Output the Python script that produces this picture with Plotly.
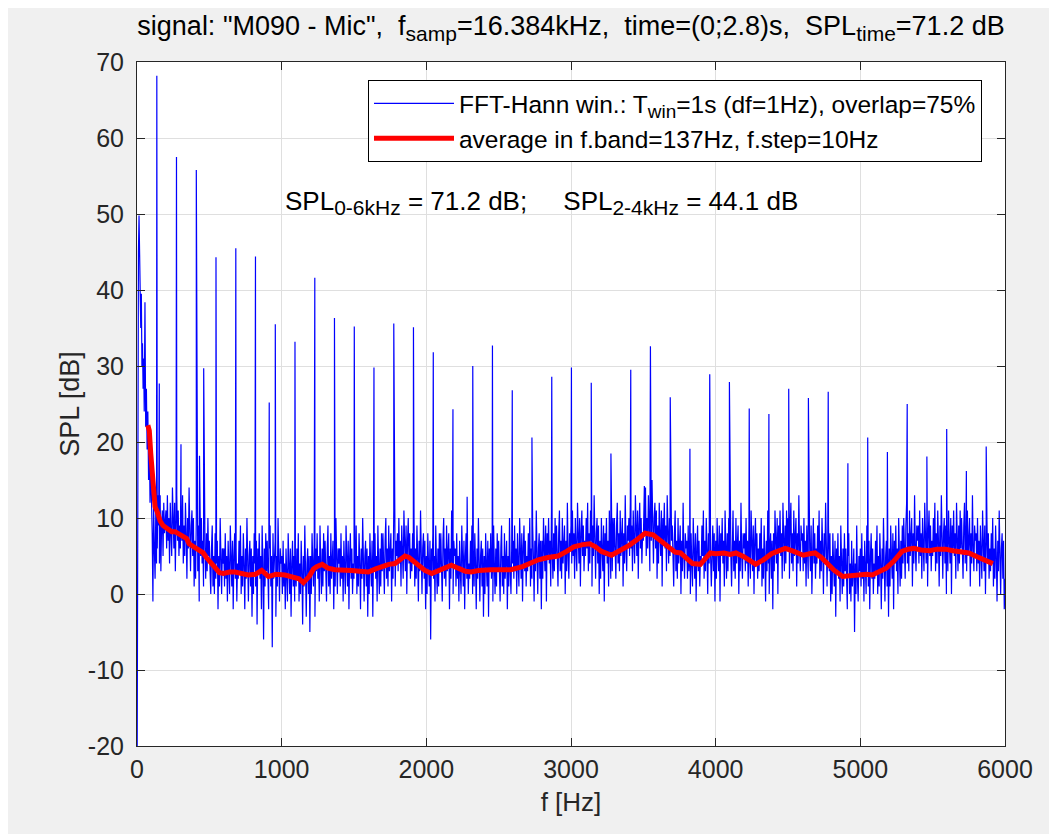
import plotly.graph_objects as go

# ---------------- data ----------------
# very low frequency part of the FFT spectrum (Hz, dB)
low_freq = [0, 5, 10, 14, 18, 22, 26, 30, 34, 38, 42, 46, 50, 55, 60, 65, 70, 75, 80, 85, 90, 95]
low_spl = [-30, 20, 45, 49.8, 46, 41, 35, 39.5, 30, 33, 27, 31, 24, 38.4, 22, 27, 19, 24, 15, 21, 12, 17]

# broadband noise floor of the FFT spectrum: one row per 100 Hz, samples every 5 Hz (dB)
noise_step_hz = 5
noise_rows = {
    100: [14, 8, -1, 12, 6, 2, 11, 4, 6, 13, 9, 4, 13, 3, 9, 11, 5, 12, 8, 10],
    200: [11, 6, 13, 7, 10, 4, 12, 8, 5, 14, 9, 6, 12, 3, 10, 13, 7, 11, 5, 9],
    300: [6, 11, 7, 13, 4, 9, 5, 12, 8, 2, 10, 6, 14, 7, 3, 9, 11, 5, 10, 1],
    400: [7, 2, 10, 6, 3, 9, -1, 8, 5, 10, 4, 7, 1, 11, 6, 2, 8, 3, 10, 5],
    500: [7, 3, 0, 6, 9, 1, 5, 0, 8, 2, 4, 7, -2, 5, 1, 10, 3, 0, 6, 4],
    600: [6, 1, 8, 2, 5, -1, 7, 3, 0, 9, 4, 1, 7, -2, 5, 8, 2, 6, -1, 4],
    700: [2, 7, 3, 9, 0, 5, 1, 8, 4, -2, 6, 2, 10, 3, -1, 5, 7, 1, 6, -3],
    800: [5, 0, 8, 4, 1, 7, -4, 6, 3, 8, 2, 5, -2, 9, 4, -6, 6, 1, 8, 3],
    900: [7, 3, -2, 6, 9, 1, 5, -7, 8, 2, 4, 7, -3, 5, 1, 10, 3, -1, 6, 4],
    1000: [5, 0, 7, 1, 4, -2, 6, 2, -1, 8, 3, 0, 6, -3, 4, 7, 1, 5, -1, 3],
    1100: [1, 6, 2, 8, -1, 4, 0, 7, 3, -4, 5, 1, 9, 2, -3, 4, 6, 0, 5, -5],
    1200: [5, 0, 8, 4, 1, 7, -3, 6, 3, 8, 2, 5, -1, 9, 4, 0, 6, 1, 8, 3],
    1300: [7, 3, -1, 6, 9, 1, 5, 0, 8, 2, 4, 7, -2, 5, 1, 10, 3, 0, 6, 4],
    1400: [6, 1, 8, 2, 5, -1, 7, 3, 0, 9, 4, 1, 7, -2, 5, 8, 2, 6, 0, 4],
    1500: [2, 7, 3, 9, 0, 5, 1, 8, 4, -2, 6, 2, 10, 3, -1, 5, 7, 1, 6, -3],
    1600: [5, 0, 8, 4, 1, 7, -3, 6, 3, 8, 2, 5, -1, 9, 4, 0, 6, 1, 8, 3],
    1700: [8, 4, 0, 7, 10, 2, 6, 1, 9, 3, 5, 8, -1, 6, 2, 11, 4, 1, 7, 5],
    1800: [8, 3, 10, 4, 7, 1, 9, 5, 2, 11, 6, 3, 9, 0, 7, 10, 4, 8, 2, 6],
    1900: [3, 8, 4, 10, 1, 6, 2, 9, 5, -1, 7, 3, 11, 4, 0, 6, 8, 2, 7, -2],
    2000: [5, 0, 8, 4, 1, 7, -6, 6, 3, 8, 2, 5, -1, 9, 4, 0, 6, 1, 8, 3],
    2100: [8, 4, -1, 7, 10, 2, 6, 1, 9, 3, 5, 8, -2, 6, 2, 11, 4, 0, 7, 5],
    2200: [6, 1, 8, 2, 5, -1, 7, 3, 0, 9, 4, 1, 7, -2, 5, 8, 2, 6, 0, 4],
    2300: [2, 7, 3, 9, 0, 5, 1, 8, 4, -2, 6, 2, 10, 3, -1, 5, 7, 1, 6, -3],
    2400: [5, 0, 8, 4, 1, 7, -3, 6, 3, 8, 2, 5, -1, 9, 4, 0, 6, 1, 8, 3],
    2500: [7, 3, -1, 6, 9, 1, 5, 0, 8, 2, 4, 7, -2, 5, 1, 10, 3, 0, 6, 4],
    2600: [7, 2, 9, 3, 6, 0, 8, 4, 1, 10, 5, 2, 8, -1, 6, 9, 3, 7, 1, 5],
    2700: [3, 8, 4, 10, 1, 6, 2, 9, 5, -1, 7, 3, 11, 4, 0, 6, 8, 2, 7, -2],
    2800: [7, 2, 10, 6, 3, 9, -1, 8, 5, 10, 4, 7, 1, 11, 6, 2, 8, 3, 10, 5],
    2900: [9, 5, 1, 8, 11, 3, 7, 2, 10, 4, 6, 9, 0, 7, 3, 12, 5, 2, 8, 6],
    3000: [9, 4, 11, 5, 8, 2, 10, 6, 3, 12, 7, 4, 10, 1, 8, 11, 5, 9, 3, 7],
    3100: [5, 10, 6, 12, 3, 8, 4, 11, 7, 1, 9, 5, 13, 6, 2, 8, 10, 4, 9, 0],
    3200: [7, 2, 10, 6, 3, 9, -1, 8, 5, 10, 4, 7, 1, 11, 6, 2, 8, 3, 10, 5],
    3300: [10, 6, 2, 9, 12, 4, 8, 3, 11, 5, 7, 10, 1, 8, 4, 13, 6, 3, 9, 7],
    3400: [10, 5, 12, 6, 9, 3, 11, 7, 4, 13, 8, 5, 11, 2, 9, 12, 6, 10, 4, 8],
    3500: [7, 12, 8, 14, 5, 10, 6, 13, 9, 3, 11, 7, 15, 8, 4, 10, 12, 6, 11, 2],
    3600: [9, 4, 12, 8, 5, 11, 1, 10, 7, 12, 6, 9, 3, 13, 8, 4, 10, 5, 12, 7],
    3700: [9, 5, 1, 8, 11, 3, 7, 2, 10, 4, 6, 9, 0, 7, 3, 12, 5, 2, 8, 6],
    3800: [7, 2, 9, 3, 6, 0, 8, 4, 1, 10, 5, 2, 8, -1, 6, 9, 3, 7, 1, 5],
    3900: [4, 9, 5, 11, 2, 7, 3, 10, 6, 0, 8, 4, 12, 5, 1, 7, 9, 3, 8, -1],
    4000: [7, 2, 10, 6, 3, 9, -1, 8, 5, 10, 4, 7, 1, 11, 6, 2, 8, 3, 10, 5],
    4100: [9, 5, 1, 8, 11, 3, 7, 2, 10, 4, 6, 9, 0, 7, 3, 12, 5, 2, 8, 6],
    4200: [8, 3, 10, 4, 7, 1, 9, 5, 2, 11, 6, 3, 9, 0, 7, 10, 4, 8, 2, 6],
    4300: [3, 8, 4, 10, 1, 6, 2, 9, 5, -1, 7, 3, 11, 4, 0, 6, 8, 2, 7, -2],
    4400: [8, 3, 11, 7, 4, 10, 0, 9, 6, 11, 5, 8, 2, 12, 7, 3, 9, 4, 11, 6],
    4500: [10, 6, 2, 9, 12, 4, 8, 3, 11, 5, 7, 10, 1, 8, 4, 13, 6, 3, 9, 7],
    4600: [8, 3, 10, 4, 7, 1, 9, 5, 2, 11, 6, 3, 9, 0, 7, 10, 4, 8, 2, 6],
    4700: [4, 9, 5, 11, 2, 7, 3, 10, 6, 0, 8, 4, 12, 5, 1, 7, 9, 3, 8, -1],
    4800: [5, 0, 8, 4, 1, 7, -3, 6, 3, 8, 2, 5, -1, 9, 4, 0, 6, 1, 8, 3],
    4900: [6, 2, -2, 5, 8, 0, 4, -1, 7, 1, 3, 6, -5, 4, 0, 9, 2, -1, 5, 3],
    5000: [6, 1, 8, 2, 5, -1, 7, 3, 0, 9, 4, 1, 7, -2, 5, 8, 2, 6, 0, 4],
    5100: [2, 7, 3, 9, 0, 5, 1, 8, 4, -2, 6, 2, 10, 3, -1, 5, 7, 1, 6, -3],
    5200: [6, 1, 9, 5, 2, 8, -2, 7, 4, 9, 3, 6, 0, 10, 5, 1, 7, 2, 9, 4],
    5300: [10, 6, 2, 9, 12, 4, 8, 3, 11, 5, 7, 10, 1, 8, 4, 13, 6, 3, 9, 7],
    5400: [9, 4, 11, 5, 8, 2, 10, 6, 3, 12, 7, 4, 10, 1, 8, 11, 5, 9, 3, 7],
    5500: [5, 10, 6, 12, 3, 8, 4, 11, 7, 1, 9, 5, 13, 6, 2, 8, 10, 4, 9, 0],
    5600: [8, 3, 11, 7, 4, 10, 0, 9, 6, 11, 5, 8, 2, 12, 7, 3, 9, 4, 11, 6],
    5700: [10, 6, 2, 9, 12, 4, 8, 3, 11, 5, 7, 10, 1, 8, 4, 13, 6, 3, 9, 7],
    5800: [8, 3, 10, 4, 7, 1, 9, 5, 2, 11, 6, 3, 9, 0, 7, 10, 4, 8, 2, 6],
    5900: [3, 8, 4, 10, 1, 6, 2, 9, 5, -1, 7, 3, 11, 4, 0, 6, 8, 2, 7, -2],
    6000: [2],
}

# harmonic peaks (Hz, dB)
harm_freq = [137, 273, 410, 546, 683, 819, 956, 1092, 1229, 1365, 1502, 1638, 1775, 1911,
             2048, 2184, 2321, 2457, 2594, 2730, 2867, 3003, 3140, 3276, 3413, 3549, 3686,
             3822, 3959, 4095, 4232, 4368, 4505, 4641, 4778, 4914, 5051, 5187, 5324, 5460,
             5597, 5733, 5870]
harm_spl = [68.2, 57.5, 55.8, 44.3, 45.5, 44.4, 35.5, 33.2, 41.6, 36.3, 35.2, 29.8, 35.6, 35.1,
            31.8, 24.3, 30.0, 32.7, 26.8, 20.6, 28.6, 29.8, 27.8, 18.5, 29.5, 32.6, 25.9,
            19.1, 28.9, 27.9, 24.4, 23.7, 27.0, 25.8, 26.6, 17.2, 20.6, 18.7, 25.0, 18.1,
            21.7, 16.2, 19.4]

# smaller side peaks (Hz, dB)
side_freq = [154, 304, 432, 461, 914, 2282, 3507]
side_spl = [27.7, 19.7, 18.2, 29.7, 25.2, 12.8, 14.2]

# band average (red) curve (Hz, dB)
avg_freq = [75, 85, 95, 105, 115, 125, 140, 160, 180, 200, 240, 263, 300, 343, 360, 389, 420,
            458, 480, 510, 539, 570, 597, 640, 677, 720, 769, 820, 862, 908, 960, 1023, 1080,
            1120, 1150, 1190, 1220, 1242, 1280, 1320, 1369, 1420, 1484, 1540, 1599, 1650, 1691,
            1740, 1783, 1820, 1852, 1880, 1910, 1944, 1990, 2037, 2100, 2150, 2173, 2220, 2270,
            2309, 2360, 2446, 2520, 2583, 2665, 2720, 2774, 2840, 2911, 2970, 3020, 3080, 3129,
            3170, 3211, 3280, 3340, 3402, 3460, 3512, 3567, 3620, 3676, 3720, 3757, 3800, 3840,
            3894, 3930, 3963, 4000, 4058, 4100, 4140, 4195, 4240, 4277, 4330, 4386, 4440, 4482,
            4540, 4605, 4650, 4687, 4730, 4769, 4820, 4878, 4930, 4987, 5040, 5083, 5130, 5179,
            5230, 5288, 5330, 5369, 5420, 5479, 5530, 5589, 5640, 5698, 5750, 5807, 5860, 5916]
avg_spl = [22.2, 21.5, 18.5, 15.5, 12.5, 11.5, 10.8, 9.6, 9.0, 8.7, 8.2, 8.2, 7.8, 7.3, 6.6, 6.2,
           5.9, 5.4, 4.8, 4.1, 3.4, 2.8, 2.7, 2.9, 2.9, 2.7, 2.5, 2.6, 3.1, 2.3, 2.6, 2.5, 2.3,
           2.0, 1.5, 2.3, 3.3, 3.6, 3.9, 3.4, 3.2, 3.2, 3.1, 3.0, 2.9, 3.3, 3.6,
           3.9, 4.0, 4.6, 5.0, 4.8, 4.3, 3.8, 3.1, 2.7, 3.2, 3.6, 3.8, 3.4, 3.0,
           2.9, 3.1, 3.2, 3.2, 3.2, 3.6, 4.1, 4.5, 4.8, 5.0, 5.6, 6.2, 6.5, 6.6,
           6.2, 5.6, 5.1, 5.7, 6.4, 7.2, 8.0, 7.8, 7.0, 6.0, 5.5, 5.4, 4.6, 4.0,
           3.9, 4.6, 5.4, 5.3, 5.4, 5.2, 5.4, 4.9, 4.3, 3.9, 4.5, 5.3, 5.7, 6.0,
           5.6, 5.1, 5.3, 5.4, 4.8, 4.0, 3.1, 2.3, 2.4, 2.6, 2.6, 2.5, 2.9, 3.4,
           4.3, 5.6, 5.9, 6.0, 5.8, 5.7, 5.9, 5.9, 5.7, 5.6, 5.4, 4.9, 4.4, 4.0]

x_ticks = [0, 1000, 2000, 3000, 4000, 5000, 6000]
y_ticks = [-20, -10, 0, 10, 20, 30, 40, 50, 60, 70]


def sub(txt, px):
    return "<sub><span style='font-size:%dpx'>%s</span></sub>" % (px, txt)


title_text = ('signal: "M090 - Mic",&nbsp; f' + sub("samp", 21) + '=16.384kHz,&nbsp; '
              'time=(0;2.8)s,&nbsp; SPL' + sub("time", 21) + '=71.2 dB')
legend_fft = 'FFT-Hann win.: T' + sub("win", 19) + '=1s (df=1Hz), overlap=75%'
legend_avg = 'average in f.band=137Hz, f.step=10Hz'
spl_text = ('SPL' + sub("0-6kHz", 21) + ' = 71.2 dB;&nbsp;&nbsp;&nbsp;&nbsp; '
            'SPL' + sub("2-4kHz", 21) + ' = 44.1 dB')

# ---------------- assemble the spectrum ----------------
noise_f, noise_v = [], []
for start, row in noise_rows.items():
    for i, v in enumerate(row):
        noise_f.append(start + noise_step_hz * i)
        noise_v.append(v)

pts = list(zip(low_freq, low_spl)) + list(zip(noise_f, noise_v)) \
    + list(zip(harm_freq, harm_spl)) + list(zip(side_freq, side_spl))
pts.sort(key=lambda p: p[0])
fft_f = [p[0] for p in pts]
fft_v = [p[1] for p in pts]

FONT = "Liberation Sans, Arial, Helvetica, sans-serif"
AX = "#262626"

fig = go.Figure()
fig.add_trace(go.Scatter(x=fft_f, y=fft_v, mode="lines", name=legend_fft,
                         line=dict(color="#0000ff", width=1.2)))
fig.add_trace(go.Scatter(x=avg_freq, y=avg_spl, mode="lines", name=legend_avg,
                         line=dict(color="#ff0000", width=5)))

# the page body adds an 8 px offset; the figure fills the rest of the window
W, H = 1049, 826
L, R, T, B = 129, 52, 54, 88

fig.update_layout(
    width=W, height=H,
    margin=dict(l=L, r=R, t=T, b=B, pad=0),
    paper_bgcolor="#f0f0f0",
    plot_bgcolor="#ffffff",
    font=dict(family=FONT, size=25, color=AX),
    title=dict(text=title_text, x=0.5, xref="paper", xanchor="center",
               y=1 - 18 / H, yref="container", yanchor="middle",
               font=dict(family=FONT, size=27, color="#000000")),
    legend=dict(x=0.9735, y=0.9737, xanchor="right", yanchor="top",
                bgcolor="#ffffff", bordercolor="#000000", borderwidth=1,
                font=dict(family=FONT, size=24.5, color="#000000"),
                itemwidth=80, tracegroupgap=0),
    showlegend=True,
)

fig.update_xaxes(range=[0, 6000], tickvals=x_ticks, ticktext=[str(t) for t in x_ticks],
                 showgrid=True, gridcolor="#dfdfdf", gridwidth=1,
                 showline=True, linecolor=AX, linewidth=1, mirror="ticks",
                 ticks="inside", ticklen=8, tickcolor=AX, tickwidth=1,
                 zeroline=False, ticklabelstandoff=1, automargin=False,
                 title=dict(text="f [Hz]", font=dict(size=26, color=AX), standoff=10))
fig.update_yaxes(range=[-20, 70], tickvals=y_ticks, ticktext=[str(t) for t in y_ticks],
                 showgrid=True, gridcolor="#dfdfdf", gridwidth=1,
                 showline=True, linecolor=AX, linewidth=1, mirror="ticks",
                 ticks="inside", ticklen=8, tickcolor=AX, tickwidth=1,
                 zeroline=False, ticklabelstandoff=7, automargin=False,
                 title=dict(text="SPL [dB]", font=dict(size=27, color=AX), standoff=0))

fig.add_annotation(text=spl_text, x=0.466, y=(746 - 203) / 684, xref="paper", yref="paper",
                   xanchor="center", yanchor="middle", showarrow=False,
                   font=dict(family=FONT, size=26, color="#000000"))

fig.write_html("out.html")
